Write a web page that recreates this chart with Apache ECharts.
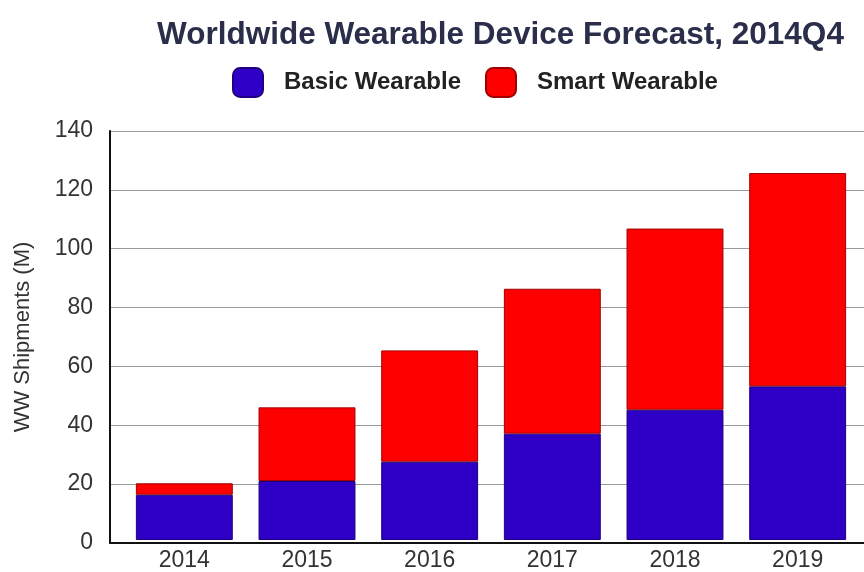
<!DOCTYPE html>
<html>
<head>
<meta charset="utf-8">
<script src="https://cdn.jsdelivr.net/npm/echarts@6/dist/echarts.min.js"></script>
<style>html,body{margin:0;padding:0;background:#fff;}#c{width:864px;height:572px;}</style>
</head>
<body>
<div id="c"></div>
<script>
const categories = ['2014', '2015', '2016', '2017', '2018', '2019'];
const basicWearable = [15.5, 20.2, 26.8, 36.4, 44.6, 52.6];
const smartWearable = [3.9, 25.2, 38.1, 49.6, 62.0, 73.0];
const yTicks = [0, 20, 40, 60, 80, 100, 120, 140];

const chart = echarts.init(document.getElementById('c'));
const font = 'Liberation Sans, Arial, sans-serif';
chart.setOption({
  animation: false,
  backgroundColor: '#ffffff',
  title: {
    text: 'Worldwide Wearable Device Forecast, 2014Q4',
    left: 152, top: 14,
    textStyle: { fontFamily: font, fontSize: 31.5, fontWeight: 'bold', color: '#2a2e4a' }
  },
  legend: {
    left: 232, top: 67, padding: 0,
    itemWidth: 30, itemHeight: 29, itemGap: 24,
    icon: 'roundRect',
    textStyle: { fontFamily: font, fontSize: 24, fontWeight: 'bold', color: '#222', padding: [0, 0, 0, 16] },
    data: ['Basic Wearable', 'Smart Wearable']
  },
  grid: [
    { left: 110, right: 0, top: 131, bottom: 29 },
    { left: 123, right: 5, top: 131, bottom: 29 }
  ],
  xAxis: [
    { type: 'category', gridIndex: 0, data: categories,
      axisLine: { lineStyle: { color: '#111', width: 2 } }, axisTick: { show: false }, axisLabel: { show: false } },
    { type: 'category', gridIndex: 1, data: categories,
      axisLine: { show: false }, axisTick: { show: false },
      axisLabel: { fontFamily: font, fontSize: 23, color: '#333', margin: 9 } }
  ],
  yAxis: [
    { type: 'value', gridIndex: 0, min: 0, max: 140, interval: 20,
      name: 'WW Shipments (M)', nameLocation: 'middle', nameGap: 76,
      nameTextStyle: { fontFamily: font, fontSize: 22, color: '#333' },
      axisLine: { show: true, lineStyle: { color: '#111', width: 2 } }, axisTick: { show: false },
      axisLabel: { fontFamily: font, fontSize: 23, color: '#333', margin: 17,
        formatter: v => yTicks.includes(v) ? String(v) : '' },
      splitLine: { lineStyle: { color: '#9a9a9a', width: 1 } } },
    { type: 'value', gridIndex: 1, min: 0, max: 140, interval: 20, show: false, splitLine: { show: false } }
  ],
  series: [
    { name: 'Basic Wearable', type: 'bar', stack: 'total', xAxisIndex: 1, yAxisIndex: 1,
      data: basicWearable, barWidth: '79%',
      itemStyle: { color: '#2e00c6', borderColor: '#1e0080', borderWidth: 1 } },
    { name: 'Smart Wearable', type: 'bar', stack: 'total', xAxisIndex: 1, yAxisIndex: 1,
      data: smartWearable, barWidth: '79%',
      itemStyle: { color: '#ff0000', borderColor: '#a00000', borderWidth: 1 } }
  ]
});
</script>
</body>
</html>
